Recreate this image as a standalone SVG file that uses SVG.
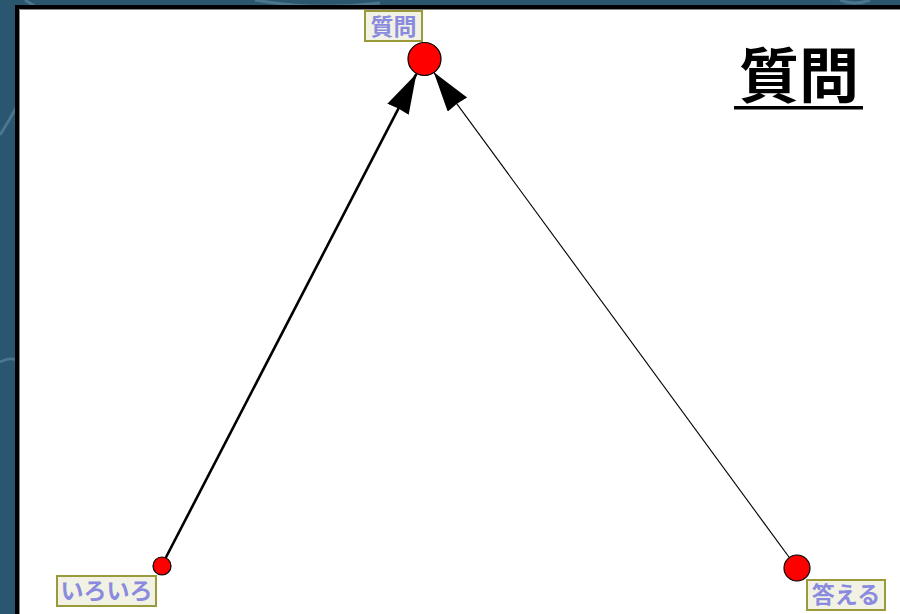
<svg xmlns="http://www.w3.org/2000/svg" width="900" height="614" viewBox="0 0 900 614">
  <defs>
    <style>
      .lblbox { fill: #f2f2e4; stroke: #9a9a3a; stroke-width: 2; }
      .lbl { font-family: "Noto Sans CJK JP", "Noto Sans", sans-serif; font-size: 23px; font-weight: 700; fill: #8a8ade; text-anchor: middle; }
      .node { fill: #ff0000; stroke: #000000; stroke-width: 1.2; }
      .edge { stroke: #000000; fill: none; }
      .bgline { stroke: #6a96b0; stroke-width: 3; fill: none; opacity: 0.5; }
    </style>
    <marker id="arrow" markerUnits="userSpaceOnUse" markerWidth="44" markerHeight="28" refX="40" refY="12" orient="auto">
      <path d="M0,0 L40,12 L0,24 L1,12 Z" fill="#000000"/>
    </marker>
  </defs>

  <!-- background -->
  <rect x="0" y="0" width="900" height="614" fill="#2b5670"/>
  <path class="bgline" d="M0,135 C10,120 25,90 40,70"/>
  <path class="bgline" d="M25,0 C40,10 50,15 60,18"/>
  <path class="bgline" d="M0,362 C8,358 12,358 16,360"/>
  <path class="bgline" d="M255,0 C300,8 340,8 380,3"/>
  <path class="bgline" d="M840,0 C850,4 860,4 870,0"/>

  <!-- panel -->
  <rect x="17" y="7" width="900" height="620" fill="#ffffff" stroke="#000000" stroke-width="4"/>
  <path d="M19.5,614 L19.5,9.5 L900,9.5" fill="none" stroke="#8a8a8a" stroke-width="1"/>

  <!-- title -->
  <g id="title">
    <text x="799" y="98" font-family="'Noto Sans CJK JP', sans-serif" font-size="60" font-weight="700" fill="#000000" text-anchor="middle">質問</text>
    <rect x="734" y="106" width="129" height="3.5" fill="#000000"/>
  </g>

  <!-- connectors -->
  <g id="connectors">
    <line class="edge" x1="162" y1="565" x2="416.4" y2="73.8" stroke-width="2.6" marker-end="url(#arrow)"/>
    <line class="edge" x1="797" y1="568" x2="433.8" y2="72.3" stroke-width="1.1" marker-end="url(#arrow)"/>
  </g>

  <!-- nodes -->
  <g id="node-shitsumon">
    <circle class="node" cx="424.5" cy="59" r="16.5"/>
    <rect class="lblbox" x="365" y="11" width="57" height="30"/>
    <text class="lbl" x="393.5" y="34.5">質問</text>
  </g>
  <g id="node-iroiro">
    <circle class="node" cx="162" cy="566" r="9"/>
    <rect class="lblbox" x="57" y="576" width="99" height="30"/>
    <text class="lbl" x="106.5" y="599">いろいろ</text>
  </g>
  <g id="node-kotaeru">
    <circle class="node" cx="797" cy="568" r="13"/>
    <rect class="lblbox" x="807" y="580" width="78" height="30"/>
    <text class="lbl" x="846" y="603">答える</text>
  </g>
</svg>
